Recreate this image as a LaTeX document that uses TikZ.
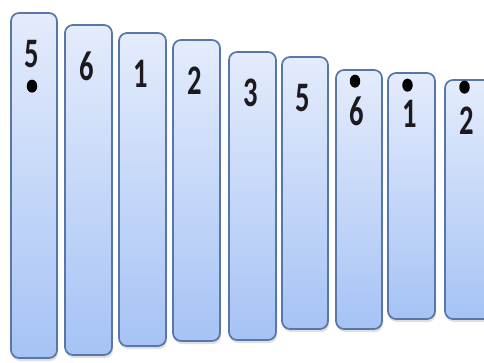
\documentclass[tikz,border=0pt]{standalone}
\usepackage{fontspec}
\setmainfont{Carlito}
\usetikzlibrary{positioning,shadows,shapes.geometric}
\definecolor{keyline}{RGB}{88,118,168}
\definecolor{keytop}{RGB}{228,236,252}
\definecolor{keybot}{RGB}{166,195,245}
\definecolor{ink}{RGB}{28,26,30}
\tikzset{
  key/.style={draw=keyline,line width=1.7pt,rounded corners=8pt,
    top color=keytop,bottom color=keybot,inner sep=0pt,
    drop shadow={opacity=0.25,shadow xshift=1pt,shadow yshift=-3pt}},
  num/.style={font=\fontsize{42}{42}\selectfont\bfseries,text=ink,
    inner sep=0pt,xscale=0.68},
  notedot/.style={ellipse,fill=black,minimum width=10.5pt,
    minimum height=13pt,inner sep=0pt},
}

\begin{document}
\begin{tikzpicture}[x=1pt,y=-1pt]
\useasboundingbox (0,0) rectangle (484,363);
\clip (0,0) rectangle (484,363);
% name/left/right/top/bottom/label
\foreach \n/\l/\r/\t/\b/\lab in {k1/11/57/13/358/5,k2/65/112/25/355/6,
  k3/119/166/33/346/1,k4/173/220/40/341/2,k5/229/276/52/340/3,
  k6/282/328/57/329/5,k7/336/382/70/329/6,k8/388/435/73/319/1,
  k9/445/492/80/319/2}{
  \node[key,minimum width={\r-\l},minimum height={\b-\t}]
    (\n) at ({(\l+\r)/2},{(\t+\b)/2}) {};
  \node[num] (\n n) at ([xshift=-2pt,yshift=-42pt]\n.north) {\lab};
}
% octave dots
\node[notedot] (lo1) at ([xshift=-2pt,yshift=-74pt]k1.north) {};
\node[notedot] (hi7) at ([xshift=-4pt,yshift=-12pt]k7.north) {};
\node[notedot] (hi8) at ([xshift=-4pt,yshift=-13pt]k8.north) {};
\node[notedot] (hi9) at ([xshift=-4pt,yshift=-8pt]k9.north) {};
\end{tikzpicture}
\end{document}
